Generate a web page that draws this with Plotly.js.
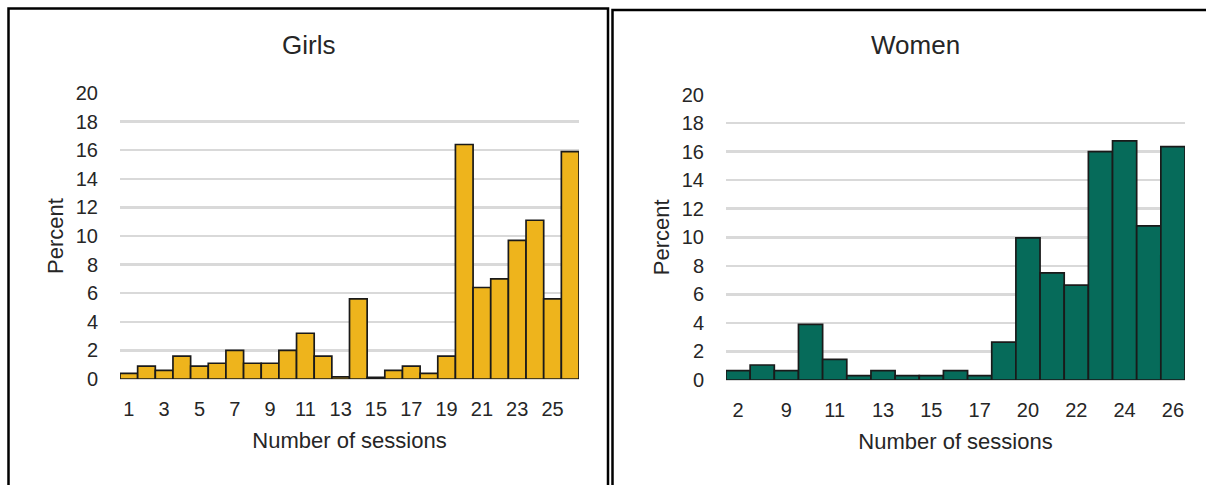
<!DOCTYPE html>
<html>
<head>
<meta charset="utf-8">
<script src="https://cdn.plot.ly/plotly-3.0.1.min.js"></script>
<style>html,body{margin:0;padding:0;background:#fff;}#chart{width:1206px;height:485px;}</style>
</head>
<body>
<div id="chart"></div>
<script>
// Girls panel
const girlsSessions = ['1','2','3','4','5','6','7','8','9','10','11','12','13','14','15','16','17','18','19','20','21','22','23','24','25','26'];
const girlsPercent = [0.4,0.9,0.6,1.6,0.9,1.1,2.0,1.1,1.1,2.0,3.2,1.6,0.15,5.6,0.12,0.6,0.9,0.4,1.6,16.4,6.4,7.0,9.7,11.1,5.6,15.9];
const girlsTickLabels = ['1','3','5','7','9','11','13','15','17','19','21','23','25'];

// Women panel
const womenSessions = ['2','8','9','10','11','12','13','14','15','16','17','18','20','21','22','23','24','25','26'];
const womenPercent = [0.65,1.05,0.65,3.9,1.45,0.3,0.65,0.3,0.3,0.65,0.3,2.65,9.95,7.5,6.65,16.0,16.75,10.8,16.35];
const womenTickLabels = ['2','9','11','13','15','17','20','22','24','26'];

const yTicks = [0,2,4,6,8,10,12,14,16,18,20];

const W = 1206, H = 485;
const px = v => v / W;
const py = v => 1 - v / H;

const FONT = 'Liberation Sans, Arial, sans-serif';
const TXT = '#262626';

const traces = [
  {type:'bar', x:girlsSessions, y:girlsPercent, xaxis:'x', yaxis:'y',
   marker:{color:'#EEB41C', line:{color:'#1a1a1a', width:1.7}}, hoverinfo:'x+y'},
  {type:'bar', x:womenSessions, y:womenPercent, xaxis:'x2', yaxis:'y2',
   marker:{color:'#066B5A', line:{color:'#1a1a1a', width:1.7}}, hoverinfo:'x+y'}
];

function xax(domain, ticks, anchor){
  return {domain:domain, type:'category', anchor:anchor, showgrid:false, showline:false, zeroline:false,
    tickmode:'array', tickvals:ticks, ticktext:ticks,
    ticks:'outside', ticklen:12, tickcolor:'rgba(0,0,0,0)',
    tickfont:{family:FONT, size:20, color:TXT},
    title:{text:'Number of sessions', font:{family:FONT, size:22, color:TXT}, standoff:13},
    fixedrange:true};
}
function yax(domain, anchor){
  return {domain:domain, anchor:anchor, range:[0,20], tickmode:'array', tickvals:yTicks,
    showgrid:true, gridcolor:'#D9D9D9', gridwidth:2.5,
    zeroline:true, zerolinecolor:'#D9D9D9', zerolinewidth:2.5, showline:false,
    ticks:'outside', ticklen:17, tickcolor:'rgba(0,0,0,0)',
    tickfont:{family:FONT, size:20, color:TXT},
    title:{text:'Percent', font:{family:FONT, size:22, color:TXT}, standoff:6},
    fixedrange:true};
}

const layout = {
  width:W, height:H, margin:{l:0,r:0,t:0,b:0}, paper_bgcolor:'#fff', plot_bgcolor:'rgba(0,0,0,0)',
  showlegend:false, bargap:0,
  xaxis: xax([px(120), px(579)], girlsTickLabels, 'y'),
  yaxis: yax([py(379), py(93)], 'x'),
  xaxis2: xax([px(726), px(1185)], womenTickLabels, 'y2'),
  yaxis2: yax([py(380), py(94.5)], 'x2'),
  annotations:[
    {text:'Girls', xref:'paper', yref:'paper', x:px(308), y:py(45), xanchor:'center', yanchor:'middle', showarrow:false,
     font:{family:FONT, size:26, color:TXT}},
    {text:'Women', xref:'paper', yref:'paper', x:px(915), y:py(45), xanchor:'center', yanchor:'middle', showarrow:false,
     font:{family:FONT, size:26, color:TXT}}
  ],
  shapes:[
    {type:'rect', xref:'paper', yref:'paper', x0:px(8.5), x1:px(608), y0:-0.1, y1:py(8.5), line:{color:'#000', width:2.5}},
    {type:'rect', xref:'paper', yref:'paper', x0:px(612.5), x1:1.1, y0:-0.1, y1:py(10), line:{color:'#000', width:2.5}}
  ]
};

Plotly.newPlot('chart', traces, layout, {displayModeBar:false, staticPlot:true});
</script>
</body>
</html>
